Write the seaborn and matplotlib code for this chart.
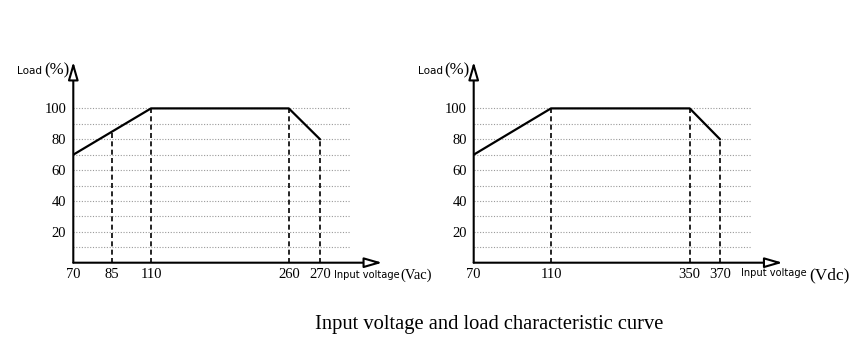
import numpy as np
import pandas as pd
import matplotlib
matplotlib.use("Agg")
import matplotlib.pyplot as plt
import seaborn as sns

# ---- data ----
ac_volts = [70, 110, 260, 270]
ac_load = [70, 100, 100, 80]
ac_ticks = [70, 85, 110, 260, 270]

dc_volts = [70, 110, 350, 370]
dc_load = [70, 100, 100, 80]
dc_ticks = [70, 110, 350, 370]

y_ticks = [20, 40, 60, 80, 100]
grid_levels = [10, 20, 30, 40, 50, 60, 70, 80, 90, 100]

title = "Input voltage and load characteristic curve"

# ---- layout (pixel offsets of tick positions along the drawn axis) ----
ac_tick_px = [0, 38.5, 77.7, 215.5, 246.7]
dc_tick_px = [0, 77.3, 216.0, 246.3]

sns.set_theme(style="white")
plt.rcParams["font.family"] = ["Liberation Serif", "DejaVu Serif"]
plt.rcParams["text.color"] = "black"

W, H = 861, 340
fig = plt.figure(figsize=(W / 100, H / 100), dpi=100)
fig.patch.set_facecolor("white")

PX_PER_UNIT = 154.3 / 100.0  # vertical pixels per % load
AX_LEN = 309.0               # axis length incl. arrow (px)
GRID_END = 277.0             # px where grid lines end
Y_TOP_PX = 201.0             # px from x-axis to y-arrow tip


def make_funcs(volts, px):
    v = np.asarray(volts, float)
    p = np.asarray(px, float)
    s_hi = (p[-1] - p[-2]) / (v[-1] - v[-2])
    s_lo = (p[1] - p[0]) / (v[1] - v[0])

    def fwd(x):
        x = np.asarray(x, float)
        out = np.interp(x, v, p)
        out = np.where(x > v[-1], p[-1] + (x - v[-1]) * s_hi, out)
        out = np.where(x < v[0], p[0] + (x - v[0]) * s_lo, out)
        return out

    def inv(y):
        y = np.asarray(y, float)
        out = np.interp(y, p, v)
        out = np.where(y > p[-1], v[-1] + (y - p[-1]) / s_hi, out)
        out = np.where(y < p[0], v[0] + (y - p[0]) / s_lo, out)
        return out

    return fwd, inv


def draw_panel(left_px, volts, load, ticks, tick_px):
    axis_y = 262.7
    ax = fig.add_axes([left_px / W, (H - axis_y) / H, AX_LEN / W, Y_TOP_PX / H])
    ax.set_facecolor("white")
    fwd, inv = make_funcs(ticks, tick_px)
    ax.set_xscale("function", functions=(fwd, inv))
    x_end = float(inv(AX_LEN))
    ax.set_xlim(ticks[0], x_end)
    ax.set_ylim(0, Y_TOP_PX / PX_PER_UNIT)
    for sp in ax.spines.values():
        sp.set_visible(False)

    # grid lines (dotted)
    g_end = float(inv(GRID_END))
    ax.hlines(grid_levels, ticks[0], g_end, colors="#9a9a9a",
              linestyles=(0, (1, 1.5)), linewidth=0.8, zorder=1)

    # dashed verticals
    pos_curve = fwd(volts)
    for t in ticks[1:]:
        top = float(np.interp(fwd(t), pos_curve, load))
        ax.vlines(t, 0, top, colors="black", linestyles=(0, (3, 2)),
                  linewidth=1.2, zorder=2)

    # curve
    df = pd.DataFrame({"v": volts, "load": load})
    sns.lineplot(data=df, x="v", y="load", sort=False, color="black",
                 linewidth=1.6, ax=ax, zorder=3)
    ax.set_xlabel("")
    ax.set_ylabel("")

    # axes with hollow arrows
    arrow = dict(arrowstyle="-|>,head_length=0.9,head_width=0.26",
                 fc="white", ec="black", lw=1.5, mutation_scale=12,
                 shrinkA=0, shrinkB=0)
    ax.annotate("", xy=(1, 0), xytext=(0, 0), xycoords="axes fraction",
                textcoords="axes fraction", arrowprops=arrow, zorder=4)
    ax.annotate("", xy=(0, 1), xytext=(0, 0), xycoords="axes fraction",
                textcoords="axes fraction", arrowprops=arrow, zorder=4)

    ax.set_xticks(ticks)
    ax.set_xticklabels([str(t) for t in ticks])
    ax.set_yticks(y_ticks)
    ax.set_yticklabels([str(t) for t in y_ticks])
    ax.tick_params(axis="both", length=0, labelsize=10.5, colors="black")
    ax.tick_params(axis="x", pad=4)
    ax.tick_params(axis="y", pad=5)
    ax.grid(False)

    # y-axis label
    fig.text((left_px - 56) / W, 1 - 71 / H, "Load", fontsize=7.5,
             family=["DejaVu Sans"], va="center", ha="left")
    fig.text((left_px - 4) / W, 1 - 70 / H, "(%)", fontsize=12,
             va="center", ha="right")
    return ax


draw_panel(73.3, ac_volts, ac_load, ac_ticks, ac_tick_px)
draw_panel(473.7, dc_volts, dc_load, dc_ticks, dc_tick_px)

# x axis labels
fig.text(334 / W, 1 - 275 / H, "Input voltage", fontsize=7.1,
         family=["DejaVu Sans"], va="center", ha="left")
fig.text(400 / W, 1 - 275 / H, "(Vac)", fontsize=10.5, va="center", ha="left")
fig.text(741 / W, 1 - 273 / H, "Input voltage", fontsize=7.1,
         family=["DejaVu Sans"], va="center", ha="left")
fig.text(809 / W, 1 - 275 / H, "(Vdc)", fontsize=12.5, va="center", ha="left")

fig.text(489 / W, 1 - 325 / H, title, fontsize=14.8, ha="center", va="center")

fig.savefig("out.png", dpi=100, facecolor="white")
